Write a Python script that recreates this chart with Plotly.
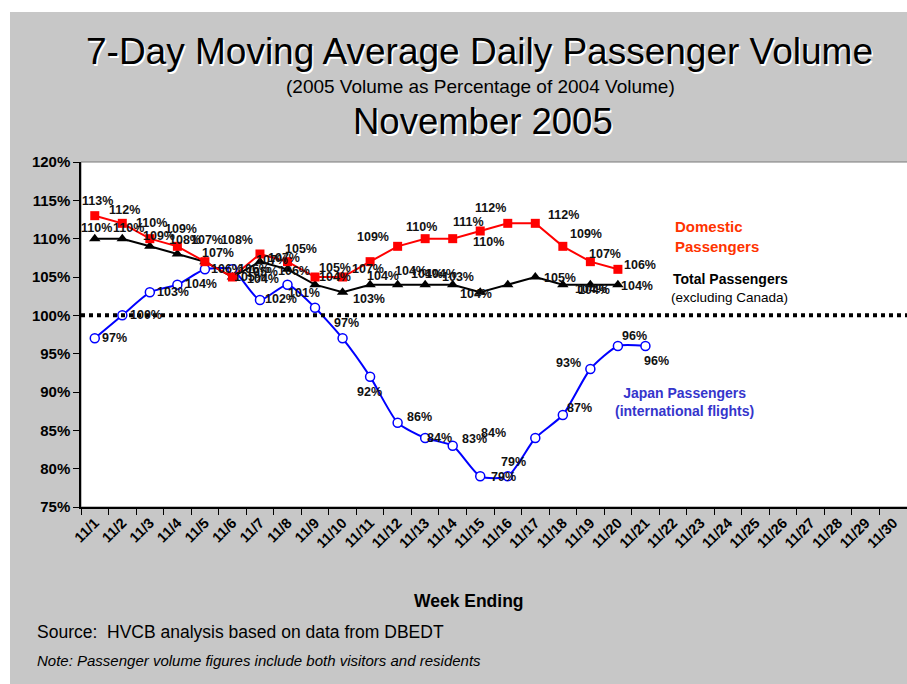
import plotly.graph_objects as go

# ---------------- data ----------------
dates = [f"11/{d}" for d in range(1, 31)]
domestic = [113, 112, 110, 109, 107, 105, 108, 107, 105, 105,
            107, 109, 110, 110, 111, 112, 112, 109, 107, 106]
total = [110, 110, 109, 108, 107, 105, 107, 106, 104, 103,
         104, 104, 104, 104, 103, 104, 105, 104, 104, 104]
japan = [97, 100, 103, 104, 106, 106, 102, 104, 101, 97,
         92, 86, 84, 83, 79, 79, 84, 87, 93, 96, 96]
y_ticks = [75, 80, 85, 90, 95, 100, 105, 110, 115, 120]

# ---------------- label offsets (px: dx right, dy down) ----------------
dom_off = [(3, -15), (2, -13), (2, -16), (4, -17), (2, -22), (18, 0), (-23, -14),
           (-4, -4), (-14, -28), (-8, -9), (-2, 7), (-25, -9), (-4, -12), (36, 3),
           (-12, -9), (-17, -15), (28, -8), (23, -12), (15, -8), (22, -4)]
tot_off = [(2, -11), (6, -11), (9, -10), (8, -14), (13, -9), (30, -5), (12, -2),
           (6, 2), (20, -8), (26, 7), (13, -9), (13, -14), (2, -11), (-12, -11),
           (-22, -15), (-32, 9), (25, 1), (28, 4), (4, 5), (19, 1)]
jap_off = [(20, 0), (24, 0), (23, 0), (24, -1), (22, 0), (22, 0), (21, -1),
           (-25, -6), (-11, -15), (4, -15), (-1, 15), (22, -6), (14, 0), (22, -7),
           (23, 1), (6, -14), (-42, -5), (17, -7), (-22, -6), (17, -10), (11, 15)]

FONT = "Liberation Sans, Arial, sans-serif"
W, H = 907, 684
ML, MR, MT, MB = 81, 0, 162, 177
PW, PH = W - ML - MR, H - MT - MB


def px(xp):
    return (xp - ML) / PW


def py(yp):
    return (H - MB - yp) / PH


def note(xp, yp, text, size, color="black", xanchor="center", weight="normal",
         shadow="none", **kw):
    return dict(x=px(xp), y=py(yp), xref="paper", yref="paper", text=text,
                showarrow=False, xanchor=xanchor, yanchor="middle",
                font=dict(family=FONT, size=size, color=color, weight=weight,
                          shadow=shadow), **kw)


fig = go.Figure()

fig.add_trace(go.Scatter(
    x=dates[:len(japan)], y=japan, mode="lines+markers", name="Japan",
    line=dict(color="#0000ff", width=2, shape="spline", smoothing=0.6),
    marker=dict(symbol="circle", size=9, color="white",
                line=dict(color="#0000ff", width=1.5)),
    cliponaxis=False, showlegend=False))
fig.add_trace(go.Scatter(
    x=dates[:len(total)], y=total, mode="lines+markers", name="Total",
    line=dict(color="black", width=2),
    marker=dict(symbol="triangle-up", size=10, color="black"),
    showlegend=False))
fig.add_trace(go.Scatter(
    x=dates[:len(domestic)], y=domestic, mode="lines+markers", name="Domestic",
    line=dict(color="#ff0000", width=2),
    marker=dict(symbol="square", size=9, color="#ff0000"),
    showlegend=False))

ann = []
for series, offs in ((japan, jap_off), (total, tot_off), (domestic, dom_off)):
    for i, v in enumerate(series):
        dx, dy = offs[i]
        ann.append(dict(x=dates[i], y=v, xref="x", yref="y", text=f"{v}%",
                        showarrow=False, xshift=dx, yshift=-dy,
                        xanchor="center", yanchor="middle",
                        font=dict(family=FONT, size=12.5, color="#111111", weight="bold")))

# titles (white drop shadow)
SH = "1.5px 1.5px 0px #ffffff"
ann.append(note(479, 52, "7-Day Moving Average Daily Passenger Volume", 37, shadow=SH))
ann.append(note(483, 121, "November 2005", 36.5, shadow=SH))
ann.append(note(480, 87, "(2005 Volume as Percentage of 2004 Volume)", 19))

# series names
ann += [
    note(673, 236, "Domestic<br>Passengers", 15, color="#ff3300", xanchor="left",
         weight="bold", align="left"),
    note(730, 279, "Total Passengers", 14, weight="bold"),
    note(729, 297, "(excluding Canada)", 13.5),
    note(684, 402, "Japan Passengers<br>(international flights)", 14, color="#3535cc",
         weight="bold", align="center"),
    note(469, 601, "Week Ending", 17.5, weight="bold"),
    note(35, 632, "Source:  HVCB analysis based on data from DBEDT", 17.5, xanchor="left"),
    note(35, 660, "<i>Note: Passenger volume figures include both visitors and residents</i>",
         15, xanchor="left"),
]

shapes = [
    # gray slide background
    dict(type="rect", xref="paper", yref="paper", x0=px(10), x1=px(W + 5),
         y0=py(12), y1=py(H + 5), fillcolor="#c7c7c7", line=dict(width=0), layer="below"),
    # plot area
    dict(type="rect", xref="x domain", yref="y domain", x0=0, x1=1.01, y0=0, y1=1,
         fillcolor="white", line=dict(color="#7a7a7a", width=1), layer="below"),
    # 100% reference line
    dict(type="line", xref="x domain", yref="y", x0=0, x1=1, y0=100, y1=100,
         line=dict(color="black", width=4, dash="4px,4px")),
]

fig.update_layout(
    width=W, height=H,
    margin=dict(l=ML, r=MR, t=MT, b=MB),
    paper_bgcolor="white", plot_bgcolor="rgba(0,0,0,0)",
    annotations=ann, shapes=shapes,
    font=dict(family=FONT),
    xaxis=dict(type="category", categoryorder="array", categoryarray=dates,
               tickvals=dates, range=[-0.5, 29.5], tickangle=-45,
               tickson="boundaries", ticks="outside", ticklen=6, tickcolor="black",
               showline=True, linecolor="black", linewidth=1.5, showgrid=False,
               tickfont=dict(family=FONT, size=14.5, color="black", weight="bold")),
    yaxis=dict(range=[75, 120], tickvals=y_ticks, ticktext=[f"{v}%" for v in y_ticks],
               ticks="outside", ticklen=6, tickcolor="black",
               showline=True, linecolor="black", linewidth=1.5, showgrid=False,
               zeroline=False,
               tickfont=dict(family=FONT, size=15, color="black", weight="bold")),
)

fig.write_html("out.html", config={"displayModeBar": False},
               post_script="document.body.style.margin='0';document.body.style.overflow='hidden';")
